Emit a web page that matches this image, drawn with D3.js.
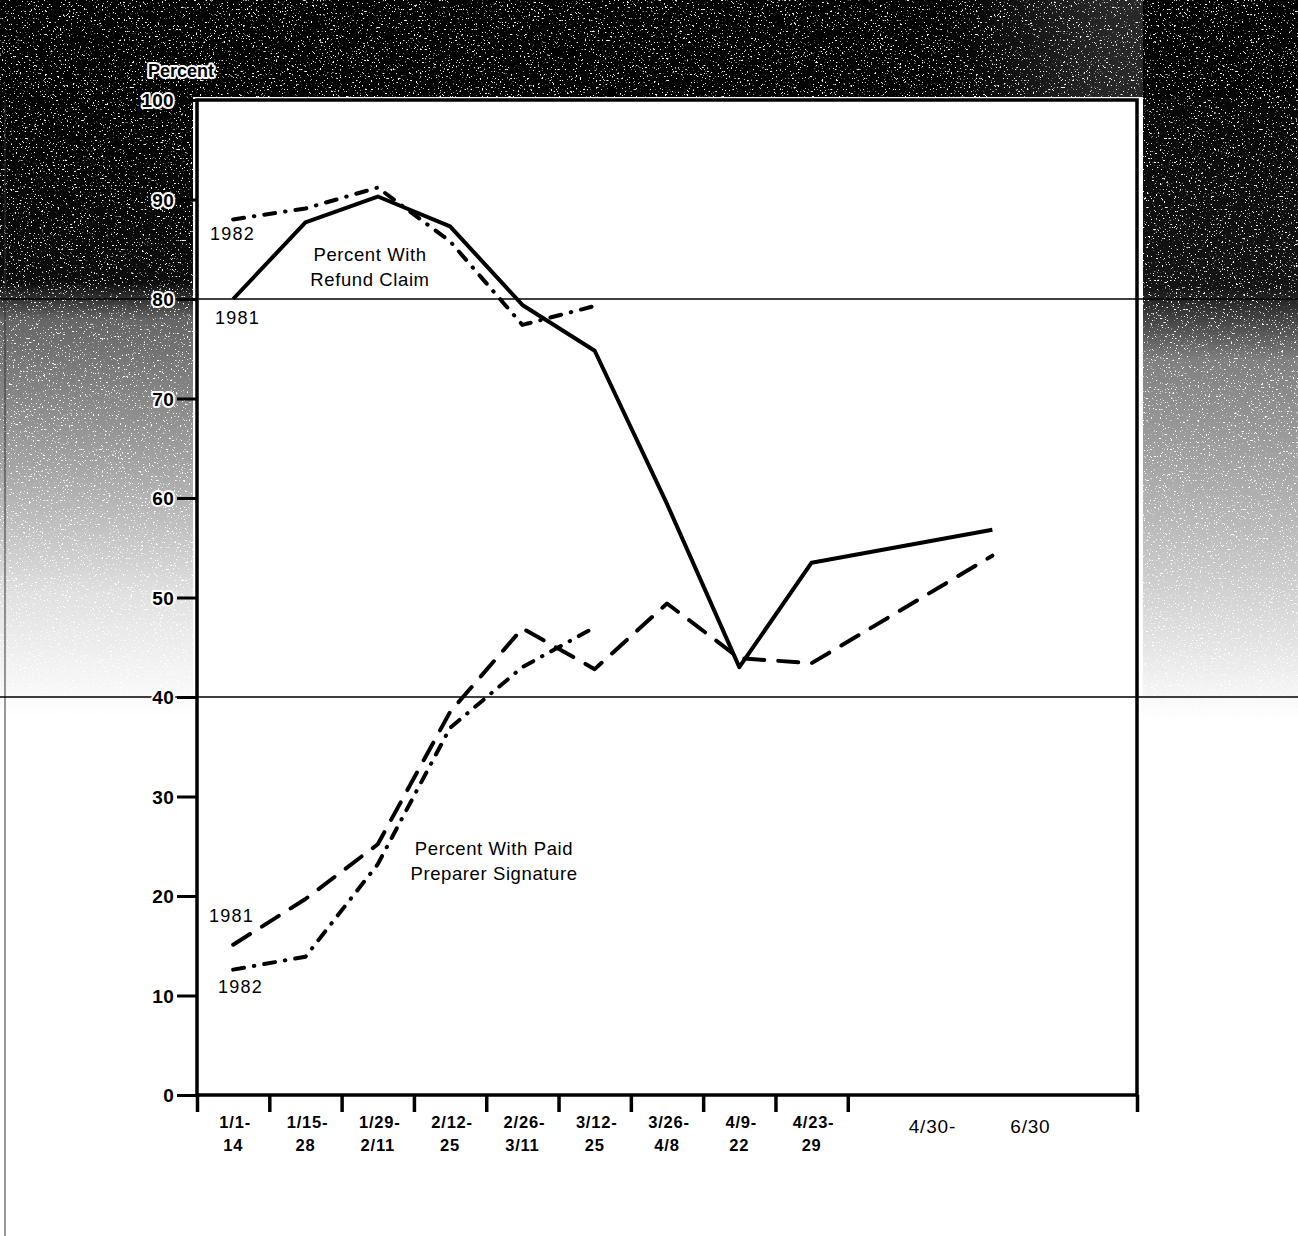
<!DOCTYPE html>
<html>
<head>
<meta charset="utf-8">
<script src="https://cdn.jsdelivr.net/npm/d3@7"></script>
<style>
  html, body { margin: 0; padding: 0; background: #fff; }
  svg { display: block; font-family: "Liberation Sans", Arial, sans-serif; }
</style>
</head>
<body>
<svg></svg>
<script>
const width = 1298;
const height = 1236;

// periods on the x axis (top line / bottom line of each label)
const periodTop    = ["1/1-", "1/15-", "1/29-", "2/12-", "2/26-", "3/12-", "3/26-", "4/9-", "4/23-", "4/30-"];
const periodBottom = ["14",   "28",    "2/11",  "25",    "3/11",  "25",    "4/8",   "22",   "29",    "6/30"];
// how many axis units each period takes on the chart
const periodSpan   = [1, 1, 1, 1, 1, 1, 1, 1, 1, 4];

const yTicks = [0, 10, 20, 30, 40, 50, 60, 70, 80, 90, 100];
const gridValues = [80, 40];

// Percent with refund claim
const refund1981 = [80.0, 87.7, 90.3, 87.3, 79.4, 74.8, 59.4, 43.0, 53.5, 56.8];
const refund1982 = [88.0, 89.1, 91.2, 85.8, 77.4, 79.3];
// Percent with paid preparer signature
const paid1981 = [15.1, 19.7, 25.2, 38.5, 46.9, 42.8, 49.4, 43.9, 43.4, 54.2];
const paid1982 = [12.6, 13.9, 23.2, 36.9, 43.0, 47.0];

const svg = d3.select("svg")
  .attr("width", width)
  .attr("height", height);

const plot = { left: 197, right: 1137, top: 100, bottom: 1095 };

// cumulative boundaries of the periods
const bounds = [0];
periodSpan.forEach(s => bounds.push(bounds[bounds.length - 1] + s));
const centers = periodSpan.map((s, i) => bounds[i] + s / 2);

const x = d3.scaleLinear().domain([0, bounds[bounds.length - 1]]).range([plot.left, plot.right]);
const y = d3.scaleLinear().domain([0, 100]).range([plot.bottom, plot.top]);

// ---- scanned page background (dark toner areas) ----
const defs = svg.append("defs");

const grain = defs.append("filter").attr("id", "grain")
  .attr("x", 0).attr("y", 0).attr("width", 1).attr("height", 1);
grain.append("feTurbulence")
  .attr("type", "fractalNoise").attr("baseFrequency", 0.55)
  .attr("numOctaves", 2).attr("seed", 7).attr("result", "noise");
grain.append("feColorMatrix").attr("in", "noise").attr("type", "matrix")
  .attr("values", "0 0 0 0 0  0 0 0 0 0  0 0 0 0 0  12 0 0 0 -3.2")
  .attr("result", "mask");
grain.append("feComposite").attr("in", "SourceGraphic").attr("in2", "mask").attr("operator", "in");

function fade(id, stops) {
  const g = defs.append("linearGradient").attr("id", id)
    .attr("x1", 0).attr("y1", 0).attr("x2", 0).attr("y2", 1);
  stops.forEach(s => g.append("stop").attr("offset", s[0]).attr("stop-color", "#000").attr("stop-opacity", s[1]));
}
fade("leftFade", [[0, 1], [0.3, 0.95], [0.36, 0.6], [0.6, 0.35], [0.8, 0.12], [1, 0]]);
fade("rightFade", [[0, 1], [0.4, 0.92], [0.5, 0.5], [0.75, 0.25], [1, 0]]);

const hGrad = defs.append("linearGradient").attr("id", "topFade")
  .attr("x1", 0).attr("y1", 0).attr("x2", 1).attr("y2", 0);
[[0, 1], [0.72, 1], [0.85, 0.85], [1, 0.8]].forEach(s =>
  hGrad.append("stop").attr("offset", s[0]).attr("stop-color", "#000").attr("stop-opacity", s[1]));

const bg = svg.append("g").attr("filter", "url(#grain)");
bg.append("rect").attr("x", 0).attr("y", 0).attr("width", width).attr("height", plot.top - 3)
  .attr("fill", "url(#topFade)");
bg.append("rect").attr("x", 0).attr("y", plot.top - 3).attr("width", plot.left - 4).attr("height", 620)
  .attr("fill", "url(#leftFade)");
bg.append("rect").attr("x", plot.right + 6).attr("y", 0).attr("width", width - plot.right - 6).attr("height", 720)
  .attr("fill", "url(#rightFade)");

// thin scan edge on the left
svg.append("line").attr("x1", 5).attr("x2", 5).attr("y1", plot.top).attr("y2", height)
  .attr("stroke", "#333").attr("stroke-width", 1);

// plot area
svg.append("rect")
  .attr("x", plot.left).attr("y", plot.top)
  .attr("width", plot.right - plot.left).attr("height", plot.bottom - plot.top)
  .attr("fill", "#fff");

// full width reference lines at 80 and 40
svg.selectAll("line.grid")
  .data(gridValues)
  .enter()
  .append("line")
  .attr("class", "grid")
  .attr("x1", 0).attr("x2", width)
  .attr("y1", d => y(d)).attr("y2", d => y(d))
  .attr("stroke", "#000").attr("stroke-width", 1.5);

// frame
svg.append("rect")
  .attr("x", plot.left).attr("y", plot.top)
  .attr("width", plot.right - plot.left).attr("height", plot.bottom - plot.top)
  .attr("fill", "none").attr("stroke", "#000").attr("stroke-width", 3.5);

// y axis
const yAxis = svg.append("g")
  .attr("transform", `translate(${plot.left},0)`)
  .call(d3.axisLeft(y).tickValues(yTicks).tickSize(20).tickPadding(3).tickFormat(d3.format("d")));
yAxis.select(".domain").remove();
yAxis.selectAll(".tick line").attr("stroke", "#000").attr("stroke-width", 3);
yAxis.selectAll(".tick text")
  .attr("fill", "#000")
  .attr("font-size", "19px")
  .attr("font-weight", "bold")
  .attr("letter-spacing", "0.3px")
  .attr("dy", "0.35em")
  .style("paint-order", "stroke")
  .attr("stroke", "#fff").attr("stroke-width", 4).attr("stroke-linejoin", "round");

svg.append("text")
  .attr("x", 148).attr("y", 77)
  .attr("font-size", "18px").attr("font-weight", "bold")
  .attr("fill", "#000")
  .style("paint-order", "stroke")
  .attr("stroke", "#fff").attr("stroke-width", 4).attr("stroke-linejoin", "round")
  .text("Percent");

// x axis ticks at period boundaries
const xAxis = svg.append("g")
  .attr("transform", `translate(0,${plot.bottom})`)
  .call(d3.axisBottom(x).tickValues(bounds).tickSize(17).tickFormat(""));
xAxis.select(".domain").remove();
xAxis.selectAll(".tick line").attr("stroke", "#000").attr("stroke-width", 3.5);

// x labels
const last = periodSpan.length - 1;
const xLabels = svg.append("g")
  .attr("font-size", "16.5px").attr("font-weight", "bold")
  .attr("letter-spacing", "0.8px")
  .attr("text-anchor", "middle");
xLabels.selectAll("text.top")
  .data(centers.slice(0, last))
  .enter().append("text").attr("class", "top")
  .attr("x", d => x(d) + 2).attr("y", plot.bottom + 33)
  .text((d, i) => periodTop[i]);
xLabels.selectAll("text.bottom")
  .data(centers.slice(0, last))
  .enter().append("text").attr("class", "bottom")
  .attr("x", d => x(d)).attr("y", plot.bottom + 56)
  .text((d, i) => periodBottom[i]);
// the long last period is written on one line
svg.append("text")
  .attr("x", x(centers[last]) - 60).attr("y", plot.bottom + 38)
  .attr("text-anchor", "middle").attr("font-size", "19px").attr("letter-spacing", "0.8px")
  .text(periodTop[last]);
svg.append("text")
  .attr("x", x(centers[last]) + 38).attr("y", plot.bottom + 38)
  .attr("text-anchor", "middle").attr("font-size", "19px").attr("letter-spacing", "0.8px")
  .text(periodBottom[last]);

// lines
const line = d3.line()
  .x((d, i) => x(centers[i]))
  .y(d => y(d));

const series = [
  { values: refund1981, dash: null },
  { values: refund1982, dash: "11,10,0.5,10" },
  { values: paid1981, dash: "20,14" },
  { values: paid1982, dash: "11,10,0.5,10" }
];

svg.selectAll("path.series")
  .data(series)
  .enter()
  .append("path")
  .attr("class", "series")
  .attr("d", d => line(d.values))
  .attr("fill", "none")
  .attr("stroke", "#000")
  .attr("stroke-width", 4)
  .attr("stroke-linejoin", "round")
  .attr("stroke-linecap", d => d.dash ? "round" : "butt")
  .attr("stroke-dasharray", d => d.dash);

// annotations
const notes = [
  { text: "1982", x: 210, y: 240 },
  { text: "1981", x: 215, y: 324 },
  { text: "1981", x: 209, y: 922 },
  { text: "1982", x: 218, y: 993 }
];
svg.selectAll("text.year")
  .data(notes)
  .enter().append("text").attr("class", "year")
  .attr("x", d => d.x).attr("y", d => d.y)
  .attr("font-size", "18px").attr("letter-spacing", "1.2px")
  .text(d => d.text);

const titles = [
  { lines: ["Percent With", "Refund Claim"], x: 370, y: 261 },
  { lines: ["Percent With Paid", "Preparer Signature"], x: 494, y: 855 }
];
titles.forEach(t => {
  svg.append("g").selectAll("text")
    .data(t.lines)
    .enter().append("text")
    .attr("x", t.x).attr("y", (d, i) => t.y + i * 25)
    .attr("text-anchor", "middle")
    .attr("font-size", "18.5px").attr("letter-spacing", "0.6px")
    .text(d => d);
});
</script>
</body>
</html>
